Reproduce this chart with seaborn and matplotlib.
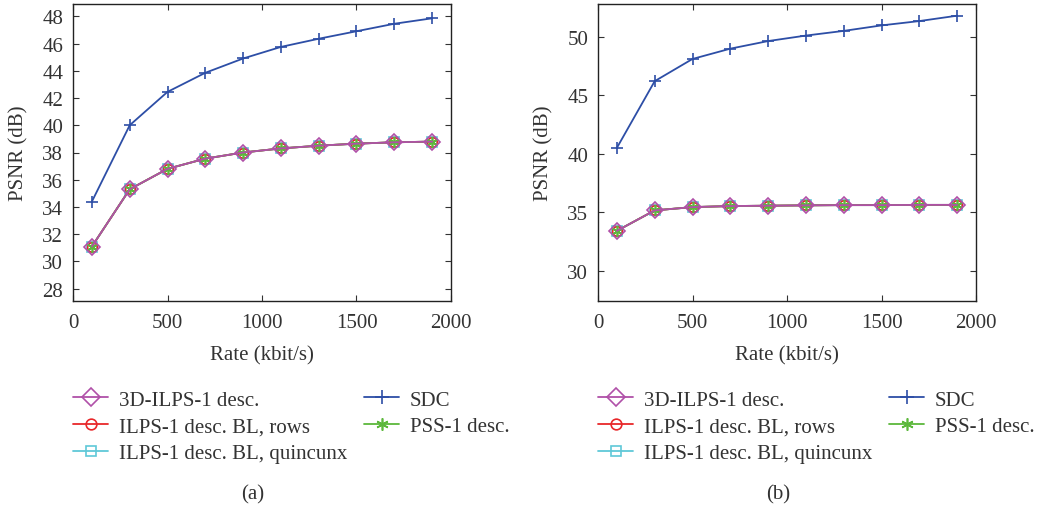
import pandas as pd
import matplotlib
matplotlib.use("Agg")
import matplotlib.pyplot as plt
import seaborn as sns

# rate points (kbit/s)
rate = [100, 300, 500, 700, 900, 1100, 1300, 1500, 1700, 1900]

# (a)
sdc_a = [34.4, 40.0, 42.45, 43.85, 44.9, 45.75, 46.35, 46.9, 47.45, 47.85]
ilps3d_a = [31.1, 35.3, 36.8, 37.55, 38.0, 38.3, 38.5, 38.65, 38.75, 38.8]
rows_a = [31.1, 35.3, 36.8, 37.55, 38.0, 38.3, 38.5, 38.65, 38.75, 38.8]
quinc_a = [31.1, 35.3, 36.8, 37.55, 38.0, 38.3, 38.5, 38.65, 38.75, 38.8]
pss_a = [31.1, 35.3, 36.8, 37.55, 38.0, 38.3, 38.5, 38.65, 38.75, 38.8]

# (b)
sdc_b = [40.5, 46.2, 48.1, 48.98, 49.63, 50.1, 50.5, 50.97, 51.34, 51.8]
ilps3d_b = [33.4, 35.15, 35.43, 35.52, 35.55, 35.58, 35.6, 35.6, 35.62, 35.62]
rows_b = [33.4, 35.15, 35.43, 35.52, 35.55, 35.58, 35.6, 35.6, 35.62, 35.62]
quinc_b = [33.4, 35.15, 35.43, 35.52, 35.55, 35.58, 35.6, 35.6, 35.62, 35.62]
pss_b = [33.4, 35.15, 35.43, 35.52, 35.55, 35.58, 35.6, 35.6, 35.62, 35.62]

labels = ["3D-ILPS-1 desc.", "ILPS-1 desc. BL, rows", "ILPS-1 desc. BL, quincunx",
          "SDC", "PSS-1 desc."]

sns.set_style("ticks")
plt.rcParams['font.family'] = ['Liberation Serif', 'DejaVu Serif']
plt.rcParams['text.color'] = '#333333'
plt.rcParams['axes.labelcolor'] = '#333333'
plt.rcParams['xtick.color'] = '#333333'
plt.rcParams['ytick.color'] = '#333333'

# style per series: color, marker, marker size
styles = {
    "SDC": ("#2d4ea6", "+", 9),
    "ILPS-1 desc. BL, quincunx": ("#5fc8d8", "s", 7),
    "ILPS-1 desc. BL, rows": ("#e8272a", "o", 7),
    "PSS-1 desc.": ("#5cb83c", (6, 2, 0), 8),
    "3D-ILPS-1 desc.": ("#b050a8", "D", 8),
}
draw_order = ["SDC", "ILPS-1 desc. BL, quincunx", "ILPS-1 desc. BL, rows",
              "PSS-1 desc.", "3D-ILPS-1 desc."]

fig = plt.figure(figsize=(10.38, 5.10), dpi=100)
ax_a = fig.add_axes([73 / 1038, 208 / 510, 378 / 1038, 297 / 510])
ax_b = fig.add_axes([598 / 1038, 208 / 510, 378 / 1038, 297 / 510])

panels = [
    (ax_a, {"SDC": sdc_a, "3D-ILPS-1 desc.": ilps3d_a, "ILPS-1 desc. BL, rows": rows_a,
            "ILPS-1 desc. BL, quincunx": quinc_a, "PSS-1 desc.": pss_a},
     (27.1, 48.9), list(range(28, 49, 2)), "(a)", 73),
    (ax_b, {"SDC": sdc_b, "3D-ILPS-1 desc.": ilps3d_b, "ILPS-1 desc. BL, rows": rows_b,
            "ILPS-1 desc. BL, quincunx": quinc_b, "PSS-1 desc.": pss_b},
     (27.4, 52.8), [30, 35, 40, 45, 50], "(b)", 598),
]

for ax, series, ylim, yticks, tag, left_px in panels:
    for name in draw_order:
        color, marker, ms = styles[name]
        df = pd.DataFrame({"rate": rate, "psnr": series[name]})
        sns.lineplot(data=df, x="rate", y="psnr", ax=ax, color=color, marker=marker,
                     markersize=ms, markerfacecolor="none", markeredgecolor=color,
                     markeredgewidth=1.2, linewidth=1.3, label=name)
    ax.set_xlim(0, 2000)
    ax.set_ylim(*ylim)
    ax.set_xticks([0, 500, 1000, 1500, 2000])
    ax.set_yticks(yticks)
    ax.tick_params(direction="in", top=True, right=True, labelsize=15, length=4)
    ax.tick_params(axis="x", pad=9)
    ax.tick_params(axis="y", pad=7)
    ax.set_xlabel("Rate (kbit/s)", fontsize=15, labelpad=9)
    ax.set_ylabel("PSNR (dB)", fontsize=15, labelpad=10)
    for sp in ax.spines.values():
        sp.set_linewidth(1.0)
        sp.set_color("#222222")
    handles, labs = ax.get_legend_handles_labels()
    hmap = dict(zip(labs, handles))
    ax.get_legend().remove()
    fig.legend([hmap[l] for l in labels], labels, ncol=2, frameon=False,
               loc="upper left", bbox_to_anchor=(left_px / 1038, 1 - 391 / 510),
               borderpad=0, borderaxespad=0, fontsize=15, handlelength=1.7,
               handletextpad=0.5, labelspacing=0.35, columnspacing=0.8,
               markerscale=1.1)
    fig.text((left_px + 180) / 1038, 1 - 495 / 510, tag, ha="center", va="center",
             fontsize=15)

fig.savefig("out.png", dpi=100)
